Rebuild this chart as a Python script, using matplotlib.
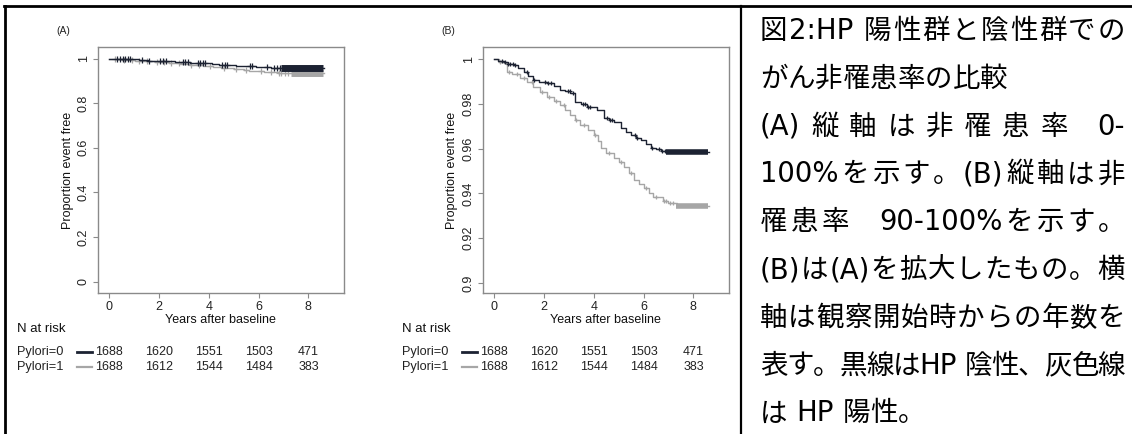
import numpy as np
import matplotlib
matplotlib.use("Agg")
import matplotlib.pyplot as plt
from matplotlib.lines import Line2D
from matplotlib.transforms import blended_transform_factory

W, H = 1132, 434

# Kaplan-Meier steps
t_neg = [0, 0.15, 0.38, 0.55, 0.78, 0.95, 1.18, 1.35, 1.57, 1.8, 2.12, 2.4, 2.65, 2.85,
         3.06, 3.26, 3.5, 3.74, 4.14, 4.41, 4.6, 4.81, 5.08, 5.3, 5.48, 5.7, 5.88, 6.1,
         6.29, 6.5, 6.69, 6.96, 8.62]
s_neg = [1.0, 0.9993, 0.9988, 0.998, 0.9973, 0.996, 0.9943, 0.9925, 0.9906, 0.9897, 0.9894,
         0.9878, 0.9864, 0.9856, 0.9847, 0.9809, 0.9798, 0.9787, 0.9772, 0.9735, 0.9728,
         0.972, 0.969, 0.9676, 0.966, 0.9648, 0.9638, 0.9622, 0.9605, 0.9597, 0.959, 0.9586,
         0.9586]
t_pos = [0, 0.2, 0.38, 0.5, 0.7, 1.05, 1.3, 1.57, 1.85, 2.12, 2.4, 2.65, 2.85, 3.06, 3.25,
         3.46, 3.75, 4.0, 4.15, 4.27, 4.5, 4.81, 5.0, 5.21, 5.4, 5.62, 5.8, 6.02, 6.2, 6.36,
         6.76, 7.0, 7.36, 8.62]
s_pos = [1.0, 0.9988, 0.9981, 0.9943, 0.9935, 0.9914, 0.9896, 0.9876, 0.9855, 0.9831,
         0.9812, 0.9794, 0.9773, 0.975, 0.9728, 0.9705, 0.9683, 0.966, 0.9635, 0.9601, 0.958,
         0.9556, 0.954, 0.9519, 0.949, 0.9459, 0.944, 0.9422, 0.94, 0.9382, 0.9367, 0.9355,
         0.9344, 0.9344]

# censoring marks (single) and the dense run of censoring at the end
cens_neg = [0.3, 0.45, 0.55, 0.65, 0.75, 0.85, 1.3, 1.6, 2.05, 2.15, 2.3, 2.95, 3.05, 3.15,
            3.55, 3.65, 3.75, 3.85, 4.55, 4.65, 4.75, 5.65, 5.75, 6.35, 6.6, 6.75, 6.85]
band_neg = (6.9, 8.6)
cens_pos = [0.25, 0.6, 0.9, 1.2, 1.5, 1.9, 2.2, 2.5, 2.8, 3.3, 3.6, 4.05, 4.6, 5.1, 5.5,
            6.1, 6.5, 6.8, 6.9, 7.05, 7.2]
band_pos = (7.3, 8.6)

risk_times = [0, 2, 4, 6, 8]
risk_neg = [1688, 1620, 1551, 1503, 471]
risk_pos = [1688, 1612, 1544, 1484, 383]

# caption lines, True = justified to the cell width
caption = [
    ("図2:HP 陽性群と陰性群での", True),
    ("がん非罹患率の比較", False),
    ("(A) 縦 軸 は 非 罹 患 率　0-", True),
    ("100%を示す。(B)縦軸は非", True),
    ("罹患率　90-100%を示す。", True),
    ("(B)は(A)を拡大したもの。横", True),
    ("軸は観察開始時からの年数を", True),
    ("表す。黒線はHP 陰性、灰色線", True),
    ("は HP 陽性。", False),
]

c_neg = "#1c2232"
c_pos = "#a6a6a6"
frame = "#8a8a8a"
plt.rcParams["font.family"] = ["Liberation Sans", "DejaVu Sans"]

fig = plt.figure(figsize=(W / 100, H / 100), dpi=100)


def fx(x):
    return x / W


def fy(y):
    return 1 - y / H


def at(t, s, c):
    return s[np.searchsorted(t, c, side="right") - 1]


def km_panel(left, ylim, yticks, yticklabels, tag, msize, band_w):
    ax = fig.add_axes([fx(left), fy(293), 246 / W, 246 / H])
    for t, s, cens, band, col in [(t_pos, s_pos, cens_pos, band_pos, c_pos),
                                  (t_neg, s_neg, cens_neg, band_neg, c_neg)]:
        ax.plot(t, s, drawstyle="steps-post", color=col, lw=1.0)
        ax.plot(cens, [at(t, s, c) for c in cens], ls="none", marker="+",
                ms=msize, mew=0.9, color=col)
        ax.plot(band, [s[-1], s[-1]], color=col, lw=band_w, solid_capstyle="butt")
    ax.set_xlim(-0.45, 9.43)
    ax.set_ylim(*ylim)
    ax.set_xticks(risk_times)
    ax.set_yticks(yticks)
    ax.set_yticklabels(yticklabels, rotation=90, va="center")
    for sp in ax.spines.values():
        sp.set_color(frame)
        sp.set_linewidth(1.0)
    ax.tick_params(direction="out", length=3.5, width=0.8, color=frame,
                   labelsize=9, labelcolor="#222222", pad=2.5)
    ax.set_ylabel("Proportion event free", fontsize=9, color="#111111", labelpad=3)
    fig.text(fx(left - 35), fy(31), tag, fontsize=7.5, ha="center", va="center",
             color="#222222")
    fig.text(fx(left + 122), fy(320), "Years after baseline", fontsize=9,
             ha="center", va="center", color="#111111")
    fig.text(fx(left - 81), fy(329), "N at risk", fontsize=9.5, ha="left",
             va="center", color="#111111")
    tr = blended_transform_factory(ax.transData, fig.transFigure)
    for y, name, vals, col, lw in [(352, "Pylori=0", risk_neg, c_neg, 2.0),
                                   (367, "Pylori=1", risk_pos, c_pos, 1.6)]:
        fig.text(fx(left - 81), fy(y), name, fontsize=9.2, ha="left", va="center",
                 color="#222222")
        fig.add_artist(Line2D([fx(left - 21), fx(left - 6)], [fy(y), fy(y)],
                              color=col, lw=lw))
        for xt, v in zip(risk_times, vals):
            ax.text(xt, fy(y), str(v), transform=tr, fontsize=9, ha="center",
                    va="center", color="#222222")
    return ax


km_panel(98, (-0.051, 1.052), [0, 0.2, 0.4, 0.6, 0.8, 1],
         ["0", "0.2", "0.4", "0.6", "0.8", "1"], "(A)", 4.5, 5.0)
km_panel(483, (0.8955, 1.0054), [0.9, 0.92, 0.94, 0.96, 0.98, 1],
         ["0.9", "0.92", "0.94", "0.96", "0.98", "1"], "(B)", 3.2, 4.0)

# table borders
fig.add_artist(Line2D([fx(4), fx(W)], [fy(6), fy(6)], color="black", lw=2.0))
fig.add_artist(Line2D([fx(5), fx(5)], [fy(6), fy(H)], color="black", lw=2.0))
fig.add_artist(Line2D([fx(741), fx(741)], [fy(6), fy(H)], color="black", lw=1.6))

# caption, justified like the Word cell
cap_style = dict(fontsize=19.8, family=["DejaVu Sans", "Noto Sans CJK JP"], color="black")
renderer = fig.canvas.get_renderer()


def text_w(s):
    t = fig.text(0, 0, s, **cap_style)
    w = t.get_window_extent(renderer).width
    t.remove()
    return w


bar_w = text_w("|")


def pen(s):
    return text_w(s + "|") - bar_w if s else 0.0


def tokens(line):
    out, i = [], 0
    while i < len(line):
        ch = line[i]
        if ch.isspace():
            i += 1
        elif ord(ch) < 128:
            j = i
            while j < len(line) and ord(line[j]) < 128 and not line[j].isspace():
                j += 1
            out.append((i, line[i:j]))
            i = j
        else:
            out.append((i, ch))
            i += 1
    return out


x0, x1 = 760, 1125
for k, (line, justify) in enumerate(caption):
    y = fy(31 + 47.8 * k)
    toks = tokens(line)
    gap = 0.0
    if justify and len(toks) > 1:
        gap = ((x1 - x0) - text_w(line)) / (len(toks) - 1)
    for n, (start, tok) in enumerate(toks):
        xp = x0 + pen(line[:start]) + n * gap
        fig.text(fx(xp), y, tok, ha="left", va="center", **cap_style)

fig.savefig("out.png", dpi=100)
